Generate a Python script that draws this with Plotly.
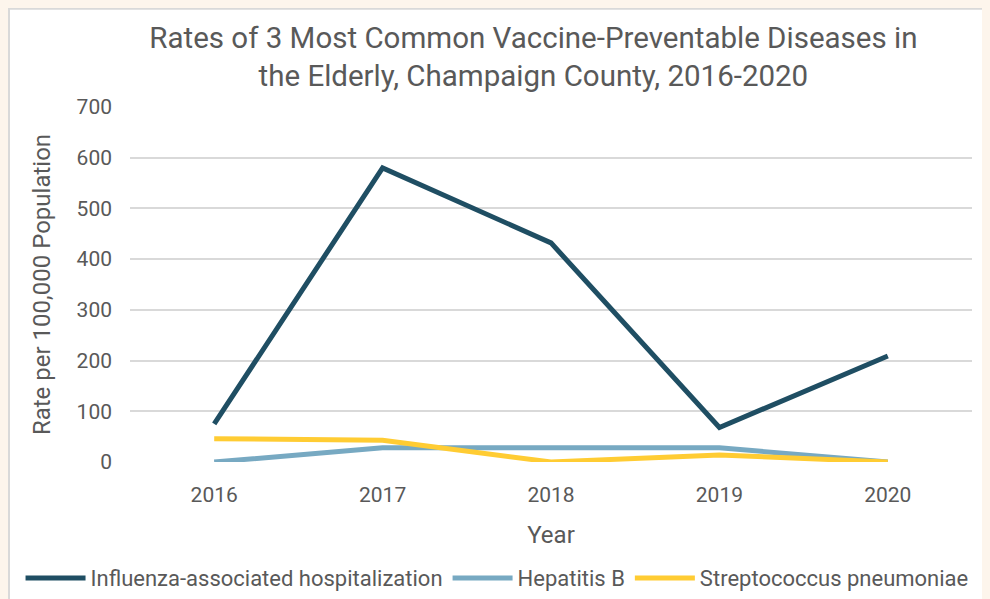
import plotly.graph_objects as go

years = ['2016', '2017', '2018', '2019', '2020']
influenza = [75, 580, 432, 68, 209]
hepatitis_b = [0, 28, 28, 28, 0]
strep_pneumo = [46, 43, 0, 14, 0]

font_family = 'Roboto, sans-serif'
text_color = '#595959'

fig = go.Figure()
fig.add_trace(go.Scatter(x=years, y=influenza, mode='lines', name='Influenza-associated hospitalization',
                         line=dict(color='#1f4e63', width=5)))
fig.add_trace(go.Scatter(x=years, y=hepatitis_b, mode='lines', name='Hepatitis B',
                         line=dict(color='#77a9c2', width=5)))
fig.add_trace(go.Scatter(x=years, y=strep_pneumo, mode='lines', name='Streptococcus pneumoniae',
                         line=dict(color='#ffcc33', width=5)))

# thin grey frame round the chart box
fig.add_shape(type='rect', xref='paper', yref='paper', x0=-0.1437, x1=1.2, y0=-0.6, y1=1.277,
              fillcolor='white', line=dict(color='#d9d9d9', width=2), layer='below')

fig.update_layout(
    width=982, height=591,
    margin=dict(l=122, r=18, t=99, b=137, autoexpand=False),
    paper_bgcolor='white',
    plot_bgcolor='rgba(0,0,0,0)',
    font=dict(family=font_family, color=text_color),
    title=dict(text='Rates of 3 Most Common Vaccine-Preventable Diseases in<br>the Elderly, Champaign County, 2016-2020',
               x=0.535, xanchor='center', y=0.933, yanchor='middle',
               font=dict(size=29.5, color=text_color, family=font_family)),
    showlegend=True,
    legend=dict(orientation='h', x=-0.13, xanchor='left', y=-0.327, yanchor='middle',
                font=dict(size=22, color=text_color), bgcolor='rgba(0,0,0,0)',
                itemwidth=60, tracegroupgap=0),
)
fig.update_xaxes(type='category', range=[-0.5, 4.5], showgrid=False, zeroline=False, showline=False,
                 ticks='', tickfont=dict(size=21, color=text_color), ticklabelstandoff=18,
                 title=dict(text='Year', font=dict(size=24, color=text_color), standoff=20))
fig.update_yaxes(range=[0, 700], dtick=100, showgrid=True, gridcolor='#d9d9d9', gridwidth=1.5,
                 zeroline=False, showline=False, ticks='', tickfont=dict(size=21, color=text_color),
                 ticklabelstandoff=17,
                 title=dict(text='Rate per 100,000 Population', font=dict(size=24, color=text_color), standoff=19))

# cream page behind the chart box
fig.write_html('out.html', post_script="document.body.style.background='#fdf5ec';")
